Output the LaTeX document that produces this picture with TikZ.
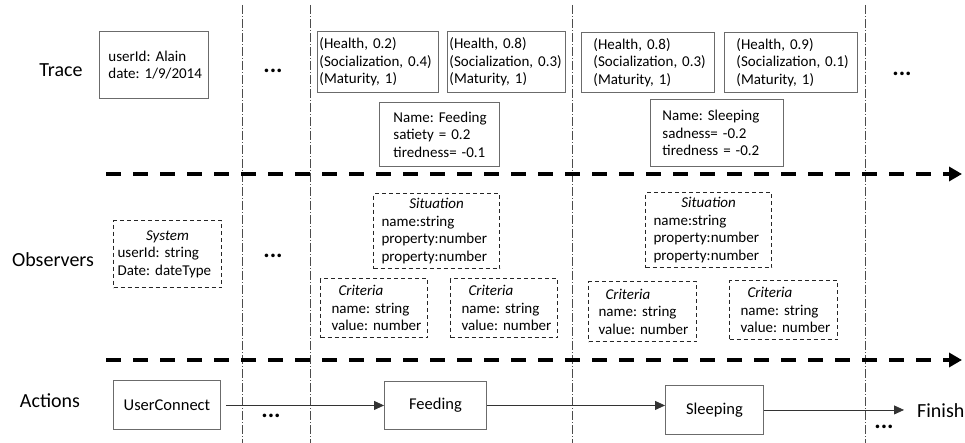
\documentclass[tikz,border=0pt]{standalone}
\usepackage{fontspec}
\setmainfont{Carlito}
\usetikzlibrary{arrows.meta}
\frenchspacing
\definecolor{boxgray}{gray}{0.42}
\definecolor{linegray}{gray}{0.3}
\newcommand\bline[1]{\makebox[0pt][l]{#1}}
\tikzset{
  lane/.style={font=\fontsize{20}{24}\selectfont},
  tbox/.style={draw=boxgray, line width=0.9pt, anchor=north west, inner ysep=0pt, align=left, font=\fontsize{15}{17.5}\selectfont},
  obox/.style={draw=black!85, line width=1.1pt, dash pattern=on 4pt off 3pt, anchor=north west, inner ysep=0pt, align=left, font=\fontsize{15}{17.5}\selectfont},
  abox/.style={draw=boxgray, line width=0.9pt, anchor=north west, inner sep=0pt, align=center, font=\fontsize{16.5}{20}\selectfont},
  dotsnode/.style={font=\fontsize{24}{24}\selectfont\bfseries, anchor=base, inner sep=0pt},
  lanesep/.style={line width=4.3pt, dash pattern=on 14.5pt off 12.5pt, -{Triangle[length=13pt,width=14pt]}},
  vsep/.style={line width=0.7pt, draw=linegray, dash pattern=on 9pt off 2pt on 1pt off 2pt},
  flow/.style={line width=0.8pt, draw=black!80, -{Triangle[length=10pt,width=9pt]}},
}
\begin{document}
\begin{tikzpicture}[x=1pt,y=-1pt]
\useasboundingbox (0,0) rectangle (965,443);
% lane separators (vertical)
\foreach \x in {242,310,572,865} \draw[vsep] (\x,5) -- (\x,443);
% horizontal lane separators
\coordinate (s1a) at (106,174); \coordinate (s1b) at (962,174);
\coordinate (s2a) at (106,360); \coordinate (s2b) at (962,360);
\draw[lanesep] (s1a) -- (s1b);
\draw[lanesep] (s2a) -- (s2b);
% lane labels
\node[lane] (ltrace) at (61,70) {Trace};
\node[lane] (lobs) at (53,260) {Observers};
\node[lane] (lact) at (50,401) {Actions};
% trace
\node[tbox, minimum width=109pt, minimum height=67pt, text width=91pt, inner xsep=9pt] (uid) at (99,31) {\bline{userId: Alain}\\\bline{date: 1/9/2014}};
\node[tbox, minimum width=121pt, minimum height=61pt, text width=117pt, inner xsep=2pt] (tr1) at (317,31) {\bline{(Health, 0.2)}\\\bline{(Socialization, 0.4)}\\\bline{(Maturity, 1)}};
\node[tbox, minimum width=118pt, minimum height=61pt, text width=114pt, inner xsep=2pt] (tr2) at (447,31) {\bline{(Health, 0.8)}\\\bline{(Socialization, 0.3)}\\\bline{(Maturity, 1)}};
\node[tbox, minimum width=133pt, minimum height=60pt, text width=109pt, inner xsep=12pt] (tr3) at (581,32) {\bline{(Health, 0.8)}\\\bline{(Socialization, 0.3)}\\\bline{(Maturity, 1)}};
\node[tbox, minimum width=133pt, minimum height=60pt, text width=109pt, inner xsep=12pt] (tr4) at (724,32) {\bline{(Health, 0.9)}\\\bline{(Socialization, 0.1)}\\\bline{(Maturity, 1)}};
\node[tbox, minimum width=120pt, minimum height=64pt, text width=92pt, inner xsep=14pt] (feedsit) at (379,102) {\bline{Name: Feeding}\\\bline{satiety = 0.2}\\\bline{tiredness= -0.1}};
\node[tbox, minimum width=133pt, minimum height=67pt, text width=109pt, inner xsep=12pt] (sleepsit) at (650,99) {\bline{Name: Sleeping}\\\bline{sadness= -0.2}\\\bline{tiredness = -0.2}};
% observers
\node[obox, minimum width=108pt, minimum height=67pt, text width=100pt, inner xsep=4pt] (sys) at (113,220) {\makebox[\hsize]{\itshape System}\\\bline{userId: string}\\\bline{Date: dateType}};
\node[obox, minimum width=126pt, minimum height=75pt, text width=110pt, inner xsep=8pt] (sit1) at (373,193) {\makebox[\hsize]{\itshape Situation}\\\bline{name:string}\\\bline{property:number}\\\bline{property:number}};
\node[obox, minimum width=107pt, minimum height=59pt, text width=85pt, inner xsep=11pt] (cri1) at (320,278) {\bline{\hspace*{7pt}\textit{Criteria}}\\\bline{name: string}\\\bline{value: number}};
\node[obox, minimum width=107pt, minimum height=59pt, text width=85pt, inner xsep=11pt] (cri2) at (450,278) {\bline{\hspace*{7pt}\textit{Criteria}}\\\bline{name: string}\\\bline{value: number}};
\node[obox, minimum width=126pt, minimum height=75pt, text width=110pt, inner xsep=8pt] (sit2) at (645,192) {\makebox[\hsize]{\itshape Situation}\\\bline{name:string}\\\bline{property:number}\\\bline{property:number}};
\node[obox, minimum width=108pt, minimum height=60pt, text width=88pt, inner xsep=10pt] (cri3) at (588,281) {\bline{\hspace*{7pt}\textit{Criteria}}\\\bline{name: string}\\\bline{value: number}};
\node[obox, minimum width=108pt, minimum height=59pt, text width=86pt, inner xsep=11pt] (cri4) at (729,280) {\bline{\hspace*{7pt}\textit{Criteria}}\\\bline{name: string}\\\bline{value: number}};
% actions
\node[abox, minimum width=107pt, minimum height=49pt] (uc) at (113,380) {UserConnect};
\node[abox, minimum width=102pt, minimum height=48pt] (fd) at (384,381) {Feeding};
\node[abox, minimum width=98pt, minimum height=49pt] (sl) at (665,385) {Sleeping};
\node[lane, anchor=west, inner xsep=13pt] (fin) at (904,411) {Finish};
\draw[flow, shorten <=5pt] (uc.east |- fd.west) -- (fd.west);
\draw[flow] (fd.east) -- (fd.east -| sl.west);
\draw[flow] (sl.east) -- (sl.east -| fin.west);
% ellipses
\node[dotsnode] (e1) at (273,73) {...};
\node[dotsnode] (e2) at (273,258) {...};
\node[dotsnode] (e3) at (271,417) {...};
\node[dotsnode] (e4) at (902,76) {...};
\node[dotsnode] (e5) at (884,428) {...};
\end{tikzpicture}
\end{document}
